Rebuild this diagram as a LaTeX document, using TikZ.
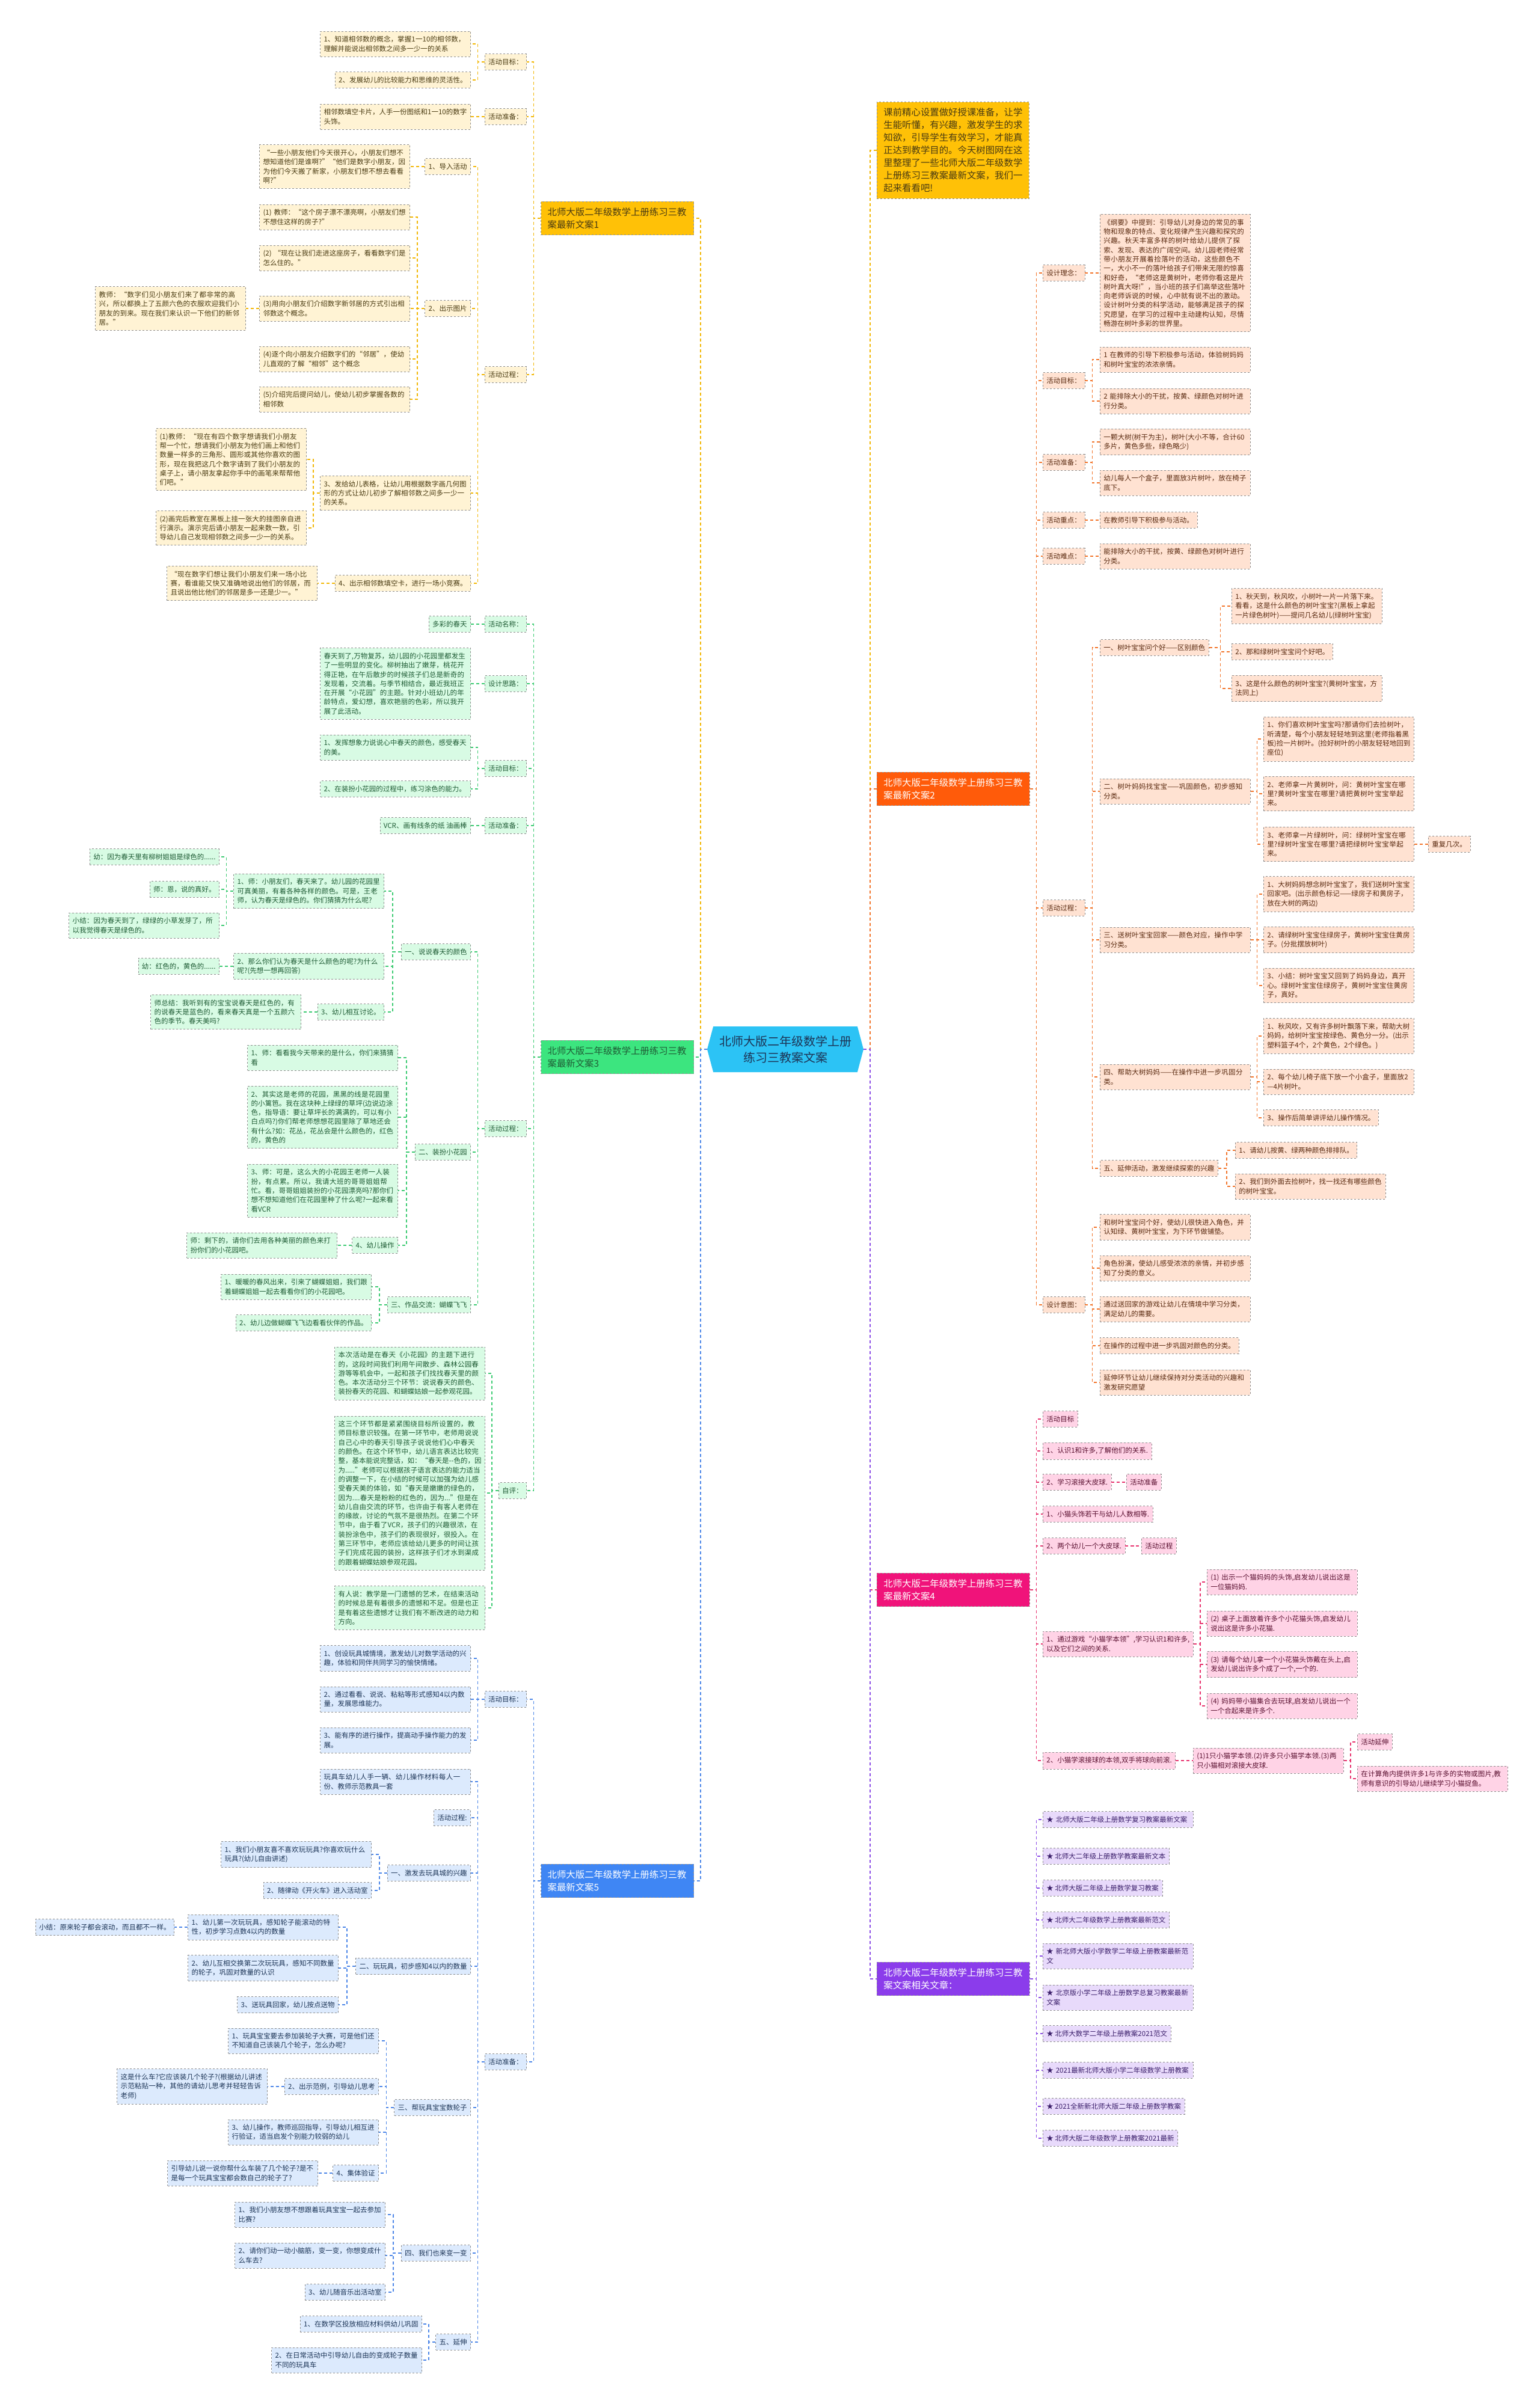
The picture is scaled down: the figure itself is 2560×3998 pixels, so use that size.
\documentclass[tikz,border=0pt]{standalone}
\usepackage{fontspec}
\newfontfamily\cjk{Noto Sans CJK SC}
\usepackage{tikz}
\usetikzlibrary{calc,shapes.symbols}
\XeTeXlinebreaklocale "zh"
\XeTeXlinebreakskip=0pt plus 1pt
\definecolor{RootC}{HTML}{2CC3F5}
\definecolor{YellowH}{HTML}{FFC107}
\definecolor{YellowL}{HTML}{FFF3D4}
\definecolor{YellowT}{HTML}{4A3B12}
\definecolor{YellowK}{HTML}{F2B705}
\definecolor{GreenH}{HTML}{3CE57F}
\definecolor{GreenL}{HTML}{D8FBE4}
\definecolor{GreenT}{HTML}{1F5C35}
\definecolor{GreenK}{HTML}{3CCB72}
\definecolor{BlueH}{HTML}{3F86F4}
\definecolor{BlueL}{HTML}{DCEAFD}
\definecolor{BlueT}{HTML}{1D3557}
\definecolor{BlueK}{HTML}{4C86E8}
\definecolor{OrangeH}{HTML}{FF5B0A}
\definecolor{OrangeL}{HTML}{FFE2D2}
\definecolor{OrangeT}{HTML}{5A2A10}
\definecolor{OrangeK}{HTML}{F2742A}
\definecolor{PinkH}{HTML}{F0137A}
\definecolor{PinkL}{HTML}{FFD3E6}
\definecolor{PinkT}{HTML}{5A1030}
\definecolor{PinkK}{HTML}{E8326E}
\definecolor{VioH}{HTML}{8B3CEB}
\definecolor{VioL}{HTML}{E8DAFB}
\definecolor{VioT}{HTML}{3A1E6A}
\definecolor{VioK}{HTML}{8B4CE6}

\tikzset{
  leaf/.style={font=\cjk\fontsize{11.5}{15.3}\selectfont, align=left,
    inner xsep=6pt, inner ysep=8pt, draw=black!45, dashed, line width=0.8pt},
  wide/.style={text width=238pt},
  leafY/.style={leaf, anchor=east, fill=YellowL, text=YellowT},
  leafG/.style={leaf, anchor=east, fill=GreenL, text=GreenT},
  leafB/.style={leaf, anchor=east, fill=BlueL, text=BlueT},
  leafO/.style={leaf, anchor=west, fill=OrangeL, text=OrangeT},
  leafP/.style={leaf, anchor=west, fill=PinkL, text=PinkT},
  leafV/.style={leaf, anchor=west, fill=VioL, text=VioT},
  head/.style={font=\cjk\fontsize{15.4}{21}\selectfont, align=left, text width=232pt,
    inner xsep=11pt, inner ysep=10pt, draw=black!45, dashed, line width=0.8pt},
  link/.style={dash pattern=on 5pt off 4pt, line width=1.5pt},
  root/.style={signal, signal to=west and east, signal pointer angle=150, fill=RootC,
    font=\cjk\fontsize{20}{27}\selectfont, align=center, text=BlueT,
    minimum width=260pt, minimum height=76pt, inner sep=4pt}
}

\begin{document}
\begin{tikzpicture}[x=1pt,y=-1pt]
  \useasboundingbox[fill=white] (0,0) rectangle (2560,3998);

  % centre
  \node[root] (root) at (1306,1745) {北师大版二年级数学上册\\练习三教案文案};

  % ---- left: plan 1
  \node[head, anchor=east, fill=YellowH, text=YellowT] (b1) at (1154,363) {北师大版二年级数学上册练习三教\\案最新文案1};
  \node[leafY] (b1a) at (876,103) {活动目标：};
  \node[leafY, wide] (b1a1) at (783,73) {1、知道相邻数的概念，掌握1一10的相邻数，理解并能说出相邻数之间多一少一的关系};
  \node[leafY] (b1a2) at (783,133) {2、发展幼儿的比较能力和思维的灵活性。};
  \node[leafY] (b1b) at (876,194) {活动准备：};
  \node[leafY, wide] (b1b1) at (783,194) {相邻数填空卡片，人手一份图纸和1一10的数字头饰。};
  \node[leafY] (b1c) at (876,623) {活动过程：};
  \node[leafY] (b1c1) at (783,277) {1、导入活动};
  \node[leafY, wide] (b1c1a) at (682,277) {“一些小朋友他们今天很开心，小朋友们想不想知道他们是谁啊?”“他们是数字小朋友，因为他们今天搬了新家，小朋友们想不想去看看啊?”};
  \node[leafY] (b1c2) at (783,513) {2、出示图片};
  \node[leafY, wide] (b1c2a) at (682,361) {(1) 教师：“这个房子漂不漂亮啊，小朋友们想不想住这样的房子?”};
  \node[leafY, wide] (b1c2b) at (682,429) {(2) “现在让我们走进这座房子，看看数字们是怎么住的。”};
  \node[leafY, wide] (b1c2c) at (682,513) {(3)用向小朋友们介绍数字新邻居的方式引出相邻数这个概念。};
  \node[leafY, wide] (b1c2c1) at (409,513) {教师：“数字们见小朋友们来了都非常的高兴，所以都换上了五颜六色的衣服欢迎我们小朋友的到来。现在我们来认识一下他们的新邻居。”};
  \node[leafY, wide] (b1c2d) at (682,597) {(4)逐个向小朋友介绍数字们的“邻居”，使幼儿直观的了解“相邻”这个概念};
  \node[leafY, wide] (b1c2e) at (682,664) {(5)介绍完后提问幼儿，使幼儿初步掌握各数的相邻数};
  \node[leafY, wide] (b1c3) at (783,820) {3、发给幼儿表格，让幼儿用根据数字画几何图形的方式让幼儿初步了解相邻数之间多一少一的关系。};
  \node[leafY, wide] (b1c3a) at (510,764) {(1)教师：“现在有四个数字想请我们小朋友帮一个忙，想请我们小朋友为他们画上和他们数量一样多的三角形、圆形或其他你喜欢的图形，现在我把这几个数字请到了我们小朋友的桌子上，请小朋友拿起你手中的画笔来帮帮他们吧。”};
  \node[leafY, wide] (b1c3b) at (510,878) {(2)画完后教室在黑板上挂一张大的挂图亲自进行演示。演示完后请小朋友一起来数一数，引导幼儿自己发现相邻数之间多一少一的关系。};
  \node[leafY] (b1c4) at (783,970) {4、出示相邻数填空卡，进行一场小竞赛。};
  \node[leafY, wide] (b1c4a) at (528,970) {“现在数字们想让我们小朋友们来一场小比赛，看谁能又快又准确地说出他们的邻居，而且说出他比他们的邻居是多一还是少一。”};

  % ---- left: plan 3
  \node[head, anchor=east, fill=GreenH, text=GreenT] (b3) at (1154,1758) {北师大版二年级数学上册练习三教\\案最新文案3};
  \node[leafG] (b3a) at (876,1038) {活动名称：};
  \node[leafG] (b3a1) at (783,1038) {多彩的春天};
  \node[leafG] (b3b) at (876,1137) {设计思路：};
  \node[leafG, wide] (b3b1) at (783,1137) {春天到了,万物复苏，幼儿园的小花园里都发生了一些明显的变化。柳树抽出了嫩芽，桃花开得正艳，在午后散步的时候孩子们总是新奇的发现着，交流着。与季节相结合，最近我班正在开展“小花园”的主题。针对小班幼儿的年龄特点，爱幻想，喜欢艳丽的色彩，所以我开展了此活动。};
  \node[leafG] (b3c) at (876,1278) {活动目标：};
  \node[leafG, wide] (b3c1) at (783,1243) {1、发挥想象力说说心中春天的颜色，感受春天的美。};
  \node[leafG, wide] (b3c2) at (783,1312) {2、在装扮小花园的过程中，练习涂色的能力。};
  \node[leafG] (b3d) at (876,1373) {活动准备：};
  \node[leafG] (b3d1) at (783,1373) {VCR、画有线条的纸 油画棒};
  \node[leafG] (b3e) at (876,1877) {活动过程：};
  \node[leafG] (b3e1) at (783,1583) {一、说说春天的颜色};
  \node[leafG, wide] (b3e1a) at (639,1482) {1、师：小朋友们，春天来了。幼儿园的花园里可真美丽，有着各种各样的颜色。可是，王老师，认为春天是绿色的。你们猜猜为什么呢?};
  \node[leafG] (b3e1a1) at (365,1425) {幼：因为春天里有柳树姐姐是绿色的......};
  \node[leafG] (b3e1a2) at (365,1479) {师：恩，说的真好。};
  \node[leafG, wide] (b3e1a3) at (365,1539) {小结：因为春天到了，绿绿的小草发芽了，所以我觉得春天是绿色的。};
  \node[leafG, wide] (b3e1b) at (639,1607) {2、那么你们认为春天是什么颜色的呢?为什么呢?(先想一想再回答)};
  \node[leafG] (b3e1b1) at (365,1607) {幼：红色的，黄色的......};
  \node[leafG] (b3e1c) at (639,1683) {3、幼儿相互讨论。};
  \node[leafG, wide] (b3e1c1) at (501,1683) {师总结：我听到有的宝宝说春天是红色的，有的说春天是蓝色的，看来春天真是一个五颜六色的季节。春天美吗?};
  \node[leafG] (b3e2) at (783,1916) {二、装扮小花园};
  \node[leafG, wide] (b3e2a) at (662,1759) {1、师：看看我今天带来的是什么，你们来猜猜看};
  \node[leafG, wide] (b3e2b) at (662,1858) {2、其实这是老师的花园，黑黑的线是花园里的小篱笆。我在这块种上绿绿的草坪(边说边涂色，指导语：要让草坪长的满满的，可以有小白点吗?)你们帮老师想想花园里除了草地还会有什么?如：花丛，花丛会是什么颜色的，红色的，黄色的};
  \node[leafG, wide] (b3e2c) at (662,1980) {3、师：可是，这么大的小花园王老师一人装扮，有点累。所以，我请大班的哥哥姐姐帮忙。看，哥哥姐姐装扮的小花园漂亮吗?那你们想不想知道他们在花园里种了什么呢?一起来看看VCR};
  \node[leafG] (b3e2d) at (662,2071) {4、幼儿操作};
  \node[leafG, wide] (b3e2d1) at (561,2071) {师：剩下的，请你们去用各种美丽的颜色来打扮你们的小花园吧。};
  \node[leafG] (b3e3) at (783,2170) {三、作品交流：蝴蝶飞飞};
  \node[leafG, wide] (b3e3a) at (618,2140) {1、暖暖的春风出来，引来了蝴蝶姐姐，我们跟着蝴蝶姐姐一起去看看你们的小花园吧。};
  \node[leafG] (b3e3b) at (618,2200) {2、幼儿边做蝴蝶飞飞边看看伙伴的作品。};
  \node[leafG] (b3f) at (876,2479) {自评：};
  \node[leafG, wide] (b3f1) at (807,2284) {本次活动是在春天《小花园》的主题下进行的，这段时间我们利用午间散步、森林公园春游等等机会中，一起和孩子们找找春天里的颜色。本次活动分三个环节：说说春天的颜色、装扮春天的花园、和蝴蝶姑娘一起参观花园。};
  \node[leafG, wide] (b3f2) at (807,2483) {这三个环节都是紧紧围绕目标所设置的，教师目标意识较强。在第一环节中，老师用说说自己心中的春天引导孩子说说他们心中春天的颜色。在这个环节中，幼儿语言表达比较完整，基本能说完整话，如：“春天是{-}{-}色的，因为.....”老师可以根据孩子语言表达的能力适当的调整一下，在小结的时候可以加强为幼儿感受春天美的体验，如“春天是嫩嫩的绿色的，因为....春天是粉粉的红色的，因为...”但是在幼儿自由交流的环节，也许由于有客人老师在的缘故，讨论的气氛不是很热烈。在第二个环节中，由于看了VCR，孩子们的兴趣很浓，在装扮涂色中，孩子们的表现很好，很投入。在第三环节中，老师应该给幼儿更多的时间让孩子们完成花园的装扮，这样孩子们才水到渠成的跟着蝴蝶姑娘参观花园。};
  \node[leafG, wide] (b3f3) at (807,2674) {有人说：教学是一门遗憾的艺术，在结束活动的时候总是有着很多的遗憾和不足。但是也正是有着这些遗憾才让我们有不断改进的动力和方向。};

  % ---- left: plan 5
  \node[head, anchor=east, fill=BlueH, text=white] (b5) at (1154,3128) {北师大版二年级数学上册练习三教\\案最新文案5};
  \node[leafB] (b5a) at (876,2826) {活动目标：};
  \node[leafB, wide] (b5a1) at (783,2758) {1、创设玩具城情境，激发幼儿对数学活动的兴趣，体验和同伴共同学习的愉快情绪。};
  \node[leafB, wide] (b5a2) at (783,2826) {2、通过看看、说说、粘粘等形式感知4以内数量，发展思维能力。};
  \node[leafB, wide] (b5a3) at (783,2894) {3、能有序的进行操作，提高动手操作能力的发展。};
  \node[leafB] (b5b) at (876,3429) {活动准备：};
  \node[leafB, wide] (b5b1) at (783,2963) {玩具车幼儿人手一辆、幼儿操作材料每人一份、教师示范教具一套};
  \node[leafB] (b5b2) at (783,3023) {活动过程:};
  \node[leafB] (b5b3) at (783,3115) {一、激发去玩具城的兴趣};
  \node[leafB, wide] (b5b3a) at (618,3084) {1、我们小朋友喜不喜欢玩玩具?你喜欢玩什么玩具?(幼儿自由讲述)};
  \node[leafB] (b5b3b) at (618,3144) {2、随律动《开火车》进入活动室};
  \node[leafB] (b5b4) at (783,3270) {二、玩玩具，初步感知4以内的数量};
  \node[leafB, wide] (b5b4a) at (563,3205) {1、幼儿第一次玩玩具，感知轮子能滚动的特性，初步学习点数4以内的数量};
  \node[leafB] (b5b4a1) at (290,3205) {小结：原来轮子都会滚动，而且都不一样。};
  \node[leafB, wide] (b5b4b) at (563,3273) {2、幼儿互相交换第二次玩玩具，感知不同数量的轮子，巩固对数量的认识};
  \node[leafB] (b5b4c) at (563,3334) {3、送玩具回家，幼儿按点送物};
  \node[leafB] (b5b5) at (783,3505) {三、帮玩具宝宝数轮子};
  \node[leafB, wide] (b5b5a) at (630,3394) {1、玩具宝宝要去参加装轮子大赛，可是他们还不知道自己该装几个轮子，怎么办呢?};
  \node[leafB] (b5b5b) at (630,3470) {2、出示范例，引导幼儿思考};
  \node[leafB, wide] (b5b5b1) at (445,3470) {这是什么车?它应该装几个轮子?(根据幼儿讲述示范粘贴一种，其他的请幼儿思考并轻轻告诉老师)};
  \node[leafB, wide] (b5b5c) at (630,3546) {3、幼儿操作，教师巡回指导，引导幼儿相互进行验证，适当启发个别能力较弱的幼儿};
  \node[leafB] (b5b5d) at (630,3614) {4、集体验证};
  \node[leafB, wide] (b5b5d1) at (529,3614) {引导幼儿说一说你帮什么车装了几个轮子?是不是每一个玩具宝宝都会数自己的轮子了?};
  \node[leafB] (b5b6) at (783,3747) {四、我们也来变一变};
  \node[leafB, wide] (b5b6a) at (641,3683) {1、我们小朋友想不想跟着玩具宝宝一起去参加比赛?};
  \node[leafB, wide] (b5b6b) at (641,3751) {2、请你们动一动小脑筋，变一变，你想变成什么车去?};
  \node[leafB] (b5b6c) at (641,3812) {3、幼儿随音乐出活动室};
  \node[leafB] (b5b7) at (783,3895) {五、延伸};
  \node[leafB] (b5b7a) at (702,3865) {1、在数学区投放相应材料供幼儿巩固};
  \node[leafB, wide] (b5b7b) at (702,3925) {2、在日常活动中引导幼儿自由的变成轮子数量不同的玩具车};

  % ---- right: intro
  \node[head, anchor=west, text width=, fill=YellowH, text=YellowT] (intro) at (1458,250) {课前精心设置做好授课准备，让学\\生能听懂，有兴趣，激发学生的求\\知欲，引导学生有效学习，才能真\\正达到教学目的。今天树图网在这\\里整理了一些北师大版二年级数学\\上册练习三教案最新文案，我们一\\起来看看吧!};

  % ---- right: plan 2
  \node[head, anchor=west, fill=OrangeH, text=white] (b2) at (1458,1312) {北师大版二年级数学上册练习三教\\案最新文案2};
  \node[leafO] (b2a) at (1734,454) {设计理念：};
  \node[leafO, wide] (b2a1) at (1829,454) {《纲要》中提到：引导幼儿对身边的常见的事物和现象的特点、变化规律产生兴趣和探究的兴趣。秋天丰富多样的树叶给幼儿提供了探索、发现、表达的广阔空间。幼儿园老师经常带小朋友开展着捡落叶的活动，这些颜色不一，大小不一的落叶给孩子们带来无限的惊喜和好奇，“老师这是黄树叶，老师你看这是片树叶真大呀!”，当小班的孩子们高举这些落叶向老师诉说的时候，心中就有说不出的激动。设计树叶分类的科学活动，能够满足孩子的探究愿望，在学习的过程中主动建构认知，尽情畅游在树叶多彩的世界里。};
  \node[leafO] (b2b) at (1734,633) {活动目标：};
  \node[leafO, wide] (b2b1) at (1829,598) {1 在教师的引导下积极参与活动，体验树妈妈和树叶宝宝的浓浓亲情。};
  \node[leafO, wide] (b2b2) at (1829,667) {2 能排除大小的干扰，按黄、绿颜色对树叶进行分类。};
  \node[leafO] (b2c) at (1734,769) {活动准备：};
  \node[leafO, wide] (b2c1) at (1829,735) {一颗大树(树干为主)，树叶(大小不等，合计60多片，黄色多些，绿色略少)};
  \node[leafO, wide] (b2c2) at (1829,803) {幼儿每人一个盒子，里面放3片树叶，放在椅子底下。};
  \node[leafO] (b2d) at (1734,865) {活动重点：};
  \node[leafO] (b2d1) at (1829,865) {在教师引导下积极参与活动。};
  \node[leafO] (b2e) at (1734,925) {活动难点：};
  \node[leafO, wide] (b2e1) at (1829,925) {能排除大小的干扰，按黄、绿颜色对树叶进行分类。};
  \node[leafO] (b2f) at (1734,1510) {活动过程：};
  \node[leafO] (b2f1) at (1829,1077) {一、树叶宝宝问个好——区别颜色};
  \node[leafO, wide] (b2f1a) at (2048,1008) {1、秋天到，秋风吹，小树叶一片一片落下来。看看，这是什么颜色的树叶宝宝?(黑板上拿起一片绿色树叶)——提问几名幼儿(绿树叶宝宝)};
  \node[leafO] (b2f1b) at (2048,1084) {2、那和绿树叶宝宝问个好吧。};
  \node[leafO, wide] (b2f1c) at (2048,1145) {3、这是什么颜色的树叶宝宝?(黄树叶宝宝，方法同上)};
  \node[leafO, wide] (b2f2) at (1829,1316) {二、树叶妈妈找宝宝——巩固颜色，初步感知分类。};
  \node[leafO, wide] (b2f2a) at (2101,1229) {1、你们喜欢树叶宝宝吗?那请你们去捡树叶，听清楚，每个小朋友轻轻地到这里(老师指着黑板)捡一片树叶。(捡好树叶的小朋友轻轻地回到座位)};
  \node[leafO, wide] (b2f2b) at (2101,1320) {2、老师拿一片黄树叶，问：黄树叶宝宝在哪里?黄树叶宝宝在哪里?请把黄树叶宝宝举起来。};
  \node[leafO, wide] (b2f2c) at (2101,1404) {3、老师拿一片绿树叶，问：绿树叶宝宝在哪里?绿树叶宝宝在哪里?请把绿树叶宝宝举起来。};
  \node[leafO] (b2f2c1) at (2375,1404) {重复几次。};
  \node[leafO, wide] (b2f3) at (1829,1563) {三、送树叶宝宝回家——颜色对应，操作中学习分类。};
  \node[leafO, wide] (b2f3a) at (2101,1487) {1、大树妈妈想念树叶宝宝了，我们送树叶宝宝回家吧。(出示颜色标记——绿房子和黄房子，放在大树的两边)};
  \node[leafO, wide] (b2f3b) at (2101,1563) {2、请绿树叶宝宝住绿房子，黄树叶宝宝住黄房子。(分批摆放树叶)};
  \node[leafO, wide] (b2f3c) at (2101,1639) {3、小结：树叶宝宝又回到了妈妈身边，真开心。绿树叶宝宝住绿房子，黄树叶宝宝住黄房子，真好。};
  \node[leafO, wide] (b2f4) at (1829,1791) {四、帮助大树妈妈——在操作中进一步巩固分类。};
  \node[leafO, wide] (b2f4a) at (2101,1723) {1、秋风吹，又有许多树叶飘落下来，帮助大树妈妈，给树叶宝宝按绿色、黄色分一分。(出示塑料篮子4个，2个黄色，2个绿色。)};
  \node[leafO, wide] (b2f4b) at (2101,1799) {2、每个幼儿椅子底下放一个小盒子，里面放2—4片树叶。};
  \node[leafO] (b2f4c) at (2101,1859) {3、操作后简单讲评幼儿操作情况。};
  \node[leafO] (b2f5) at (1829,1943) {五、延伸活动，激发继续探索的兴趣};
  \node[leafO] (b2f5a) at (2054,1913) {1、请幼儿按黄、绿两种颜色排排队。};
  \node[leafO, wide] (b2f5b) at (2054,1973) {2、我们到外面去捡树叶，找一找还有哪些颜色的树叶宝宝。};
  \node[leafO] (b2g) at (1734,2170) {设计意图：};
  \node[leafO, wide] (b2g1) at (1829,2041) {和树叶宝宝问个好，使幼儿很快进入角色，并认知绿、黄树叶宝宝，为下环节做铺垫。};
  \node[leafO, wide] (b2g2) at (1829,2109) {角色扮演，使幼儿感受浓浓的亲情，并初步感知了分类的意义。};
  \node[leafO, wide] (b2g3) at (1829,2177) {通过送回家的游戏让幼儿在情境中学习分类，满足幼儿的需要。};
  \node[leafO] (b2g4) at (1829,2238) {在操作的过程中进一步巩固对颜色的分类。};
  \node[leafO, wide] (b2g5) at (1829,2299) {延伸环节让幼儿继续保持对分类活动的兴趣和激发研究愿望};

  % ---- right: plan 4
  \node[head, anchor=west, fill=PinkH, text=white] (b4) at (1458,2644) {北师大版二年级数学上册练习三教\\案最新文案4};
  \node[leafP] (b4a) at (1734,2360) {活动目标};
  \node[leafP] (b4b) at (1734,2413) {1、认识1和许多,了解他们的关系.};
  \node[leafP] (b4c) at (1734,2465) {2、学习滚接大皮球.};
  \node[leafP] (b4c1) at (1873,2465) {活动准备};
  \node[leafP] (b4d) at (1734,2518) {1、小猫头饰若干与幼儿人数相等.};
  \node[leafP] (b4e) at (1734,2571) {2、两个幼儿一个大皮球.};
  \node[leafP] (b4e1) at (1898,2571) {活动过程};
  \node[leafP, wide] (b4f) at (1734,2734) {1、通过游戏“小猫学本领”,学习认识1和许多,以及它们之间的关系.};
  \node[leafP, wide] (b4f1) at (2007,2631) {(1) 出示一个猫妈妈的头饰,启发幼儿说出这是一位猫妈妈.};
  \node[leafP, wide] (b4f2) at (2007,2700) {(2) 桌子上面放着许多个小花猫头饰,启发幼儿说出这是许多小花猫.};
  \node[leafP, wide] (b4f3) at (2007,2768) {(3) 请每个幼儿拿一个小花猫头饰戴在头上,启发幼儿说出许多个成了一个,一个的.};
  \node[leafP, wide] (b4f4) at (2007,2837) {(4) 妈妈带小猫集合去玩球,启发幼儿说出一个一个合起来是许多个.};
  \node[leafP] (b4g) at (1734,2928) {2、小猫学滚接球的本领,双手将球向前滚.};
  \node[leafP, wide] (b4g1) at (1984,2928) {(1)1只小猫学本领.(2)许多只小猫学本领.(3)两只小猫相对滚接大皮球.};
  \node[leafP] (b4g1a) at (2257,2897) {活动延伸};
  \node[leafP, wide] (b4g1b) at (2257,2958) {在计算角内提供许多1与许多的实物或图片,教师有意识的引导幼儿继续学习小猫捉鱼。};

  % ---- right: related
  \node[head, anchor=west, fill=VioH, text=white] (b6) at (1458,3291) {北师大版二年级数学上册练习三教\\案文案相关文章：};
  \node[leafV, wide] (r1) at (1734,3026) {★ 北师大版二年级上册数学复习教案最新文案};
  \node[leafV] (r2) at (1734,3087) {★ 北师大二年级上册数学教案最新文本};
  \node[leafV] (r3) at (1734,3140) {★ 北师大版二年级上册数学复习教案};
  \node[leafV] (r4) at (1734,3193) {★ 北师大二年级数学上册教案最新范文};
  \node[leafV, wide] (r5) at (1734,3253) {★ 新北师大版小学数学二年级上册教案最新范文};
  \node[leafV, wide] (r6) at (1734,3322) {★ 北京版小学二年级上册数学总复习教案最新文案};
  \node[leafV] (r7) at (1734,3382) {★ 北师大数学二年级上册教案2021范文};
  \node[leafV, wide] (r8) at (1734,3443) {★ 2021最新北师大版小学二年级数学上册教案};
  \node[leafV] (r9) at (1734,3503) {★ 2021全新新北师大版二年级上册数学教案};
  \node[leafV] (r10) at (1734,3556) {★ 北师大版二年级数学上册教案2021最新};

  % connectors, left side
  \foreach \p/\c in {root/b1,b1/b1a,b1/b1b,b1/b1c,b1a/b1a1,b1a/b1a2,b1b/b1b1,b1c/b1c1,b1c/b1c2,b1c/b1c3,b1c/b1c4,
      b1c1/b1c1a,b1c2/b1c2a,b1c2/b1c2b,b1c2/b1c2c,b1c2/b1c2d,b1c2/b1c2e,b1c2c/b1c2c1,b1c3/b1c3a,b1c3/b1c3b,b1c4/b1c4a}
    \draw[link, YellowK] (\p.west) -- ($(\p.west)!.5!(\p.west -| \c.east)$) |- (\c.east);
  \foreach \p/\c in {root/b3,b3/b3a,b3/b3b,b3/b3c,b3/b3d,b3/b3e,b3/b3f,b3a/b3a1,b3b/b3b1,b3c/b3c1,b3c/b3c2,b3d/b3d1,
      b3e/b3e1,b3e/b3e2,b3e/b3e3,b3e1/b3e1a,b3e1/b3e1b,b3e1/b3e1c,b3e1a/b3e1a1,b3e1a/b3e1a2,b3e1a/b3e1a3,
      b3e1b/b3e1b1,b3e1c/b3e1c1,b3e2/b3e2a,b3e2/b3e2b,b3e2/b3e2c,b3e2/b3e2d,b3e2d/b3e2d1,b3e3/b3e3a,b3e3/b3e3b,
      b3f/b3f1,b3f/b3f2,b3f/b3f3}
    \draw[link, GreenK] (\p.west) -- ($(\p.west)!.5!(\p.west -| \c.east)$) |- (\c.east);
  \foreach \p/\c in {root/b5,b5/b5a,b5/b5b,b5a/b5a1,b5a/b5a2,b5a/b5a3,b5b/b5b1,b5b/b5b2,b5b/b5b3,b5b/b5b4,b5b/b5b5,
      b5b/b5b6,b5b/b5b7,b5b3/b5b3a,b5b3/b5b3b,b5b4/b5b4a,b5b4/b5b4b,b5b4/b5b4c,b5b4a/b5b4a1,b5b5/b5b5a,b5b5/b5b5b,
      b5b5/b5b5c,b5b5/b5b5d,b5b5b/b5b5b1,b5b5d/b5b5d1,b5b6/b5b6a,b5b6/b5b6b,b5b6/b5b6c,b5b7/b5b7a,b5b7/b5b7b}
    \draw[link, BlueK] (\p.west) -- ($(\p.west)!.5!(\p.west -| \c.east)$) |- (\c.east);

  % connectors, right side
  \foreach \p/\c/\k in {root/intro/YellowK}
    \draw[link, \k] (\p.east) -- ($(\p.east)!.5!(\p.east -| \c.west)$) |- (\c.west);
  \foreach \p/\c in {root/b2,b2/b2a,b2/b2b,b2/b2c,b2/b2d,b2/b2e,b2/b2f,b2/b2g,b2a/b2a1,b2b/b2b1,b2b/b2b2,b2c/b2c1,
      b2c/b2c2,b2d/b2d1,b2e/b2e1,b2f/b2f1,b2f/b2f2,b2f/b2f3,b2f/b2f4,b2f/b2f5,b2f1/b2f1a,b2f1/b2f1b,b2f1/b2f1c,
      b2f2/b2f2a,b2f2/b2f2b,b2f2/b2f2c,b2f2c/b2f2c1,b2f3/b2f3a,b2f3/b2f3b,b2f3/b2f3c,b2f4/b2f4a,b2f4/b2f4b,
      b2f4/b2f4c,b2f5/b2f5a,b2f5/b2f5b,b2g/b2g1,b2g/b2g2,b2g/b2g3,b2g/b2g4,b2g/b2g5}
    \draw[link, OrangeK] (\p.east) -- ($(\p.east)!.5!(\p.east -| \c.west)$) |- (\c.west);
  \foreach \p/\c in {root/b4,b4/b4a,b4/b4b,b4/b4c,b4/b4d,b4/b4e,b4/b4f,b4/b4g,b4c/b4c1,b4e/b4e1,b4f/b4f1,b4f/b4f2,
      b4f/b4f3,b4f/b4f4,b4g/b4g1,b4g1/b4g1a,b4g1/b4g1b}
    \draw[link, PinkK] (\p.east) -- ($(\p.east)!.5!(\p.east -| \c.west)$) |- (\c.west);
  \foreach \p/\c in {root/b6,b6/r1,b6/r2,b6/r3,b6/r4,b6/r5,b6/r6,b6/r7,b6/r8,b6/r9,b6/r10}
    \draw[link, VioK] (\p.east) -- ($(\p.east)!.5!(\p.east -| \c.west)$) |- (\c.west);
\end{tikzpicture}
\end{document}
